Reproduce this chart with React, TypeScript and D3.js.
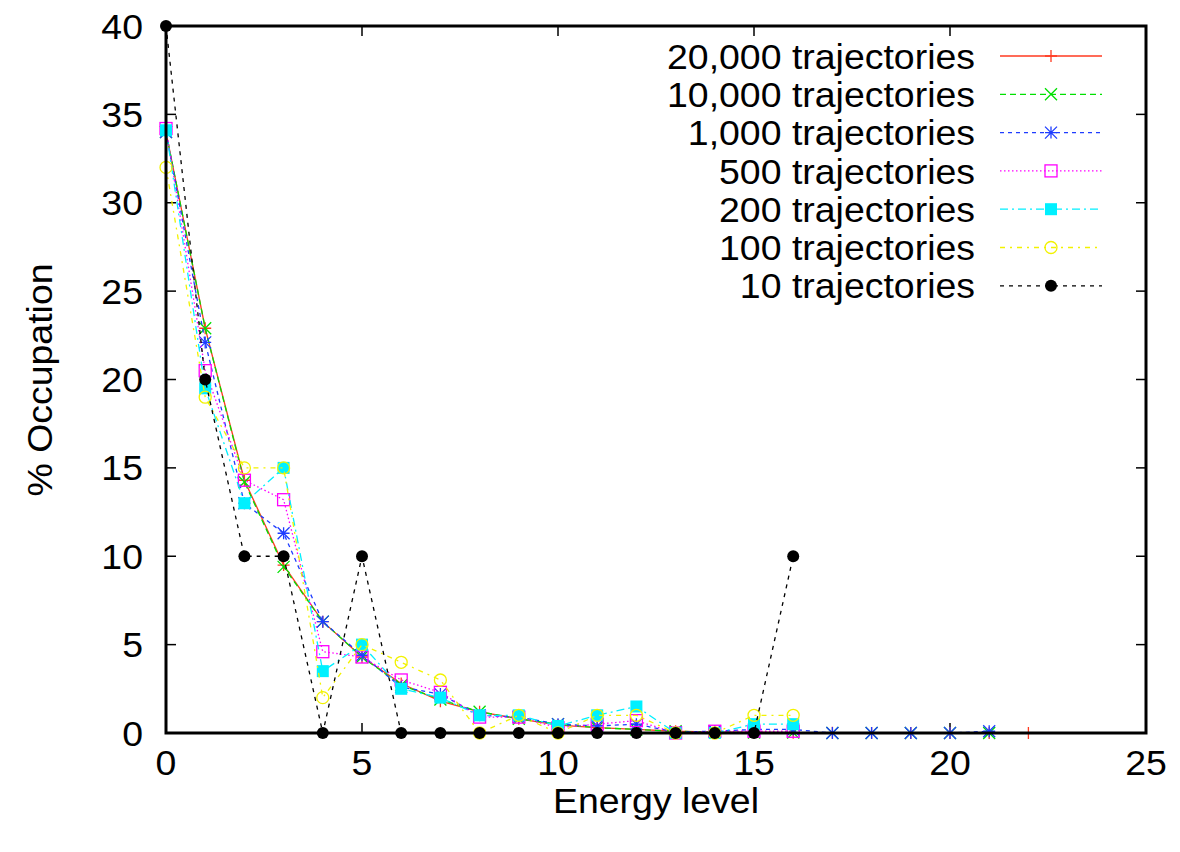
import React from "react";
import * as d3 from "d3";

// Energy-level occupation (%) for different trajectory counts
const levels20000 = [34, 22.9, 14.3, 9.5, 6.3, 4.3, 2.8, 1.8, 1.2, 0.8, 0.45, 0.3, 0.2, 0.1, 0.05, 0.03, 0.02, 0.01, 0, 0, 0, 0, 0];
const levels10000 = [34, 22.9, 14.2, 9.4, 6.3, 4.3, 2.7, 1.9, 1.2, 0.8, 0.5, 0.3, 0.2, 0.1, 0.05, 0.02, 0.02, 0, 0, 0, 0, 0];
const levels1000 = [34, 22.1, 13.0, 11.3, 6.3, 4.4, 2.6, 2.2, 1.0, 0.9, 0.5, 0.4, 0.5, 0.05, 0.1, 0.2, 0.2, 0, 0, 0, 0, 0.1];
const levels500 = [34.2, 20.5, 14.3, 13.2, 4.6, 4.3, 3.0, 2.3, 0.9, 0.9, 0.3, 0.5, 0.7, 0, 0.1, 0.1, 0.1];
const levels200 = [34.1, 19.5, 13, 15, 3.5, 5.0, 2.5, 2.0, 1.0, 1.0, 0.4, 1.0, 1.5, 0, 0, 0.5, 0.5];
const levels100 = [32, 19, 15, 15, 2, 5, 4, 3, 0, 1, 0, 1, 1, 0, 0, 1, 1];
const levels10 = [40, 20, 10, 10, 0, 10, 0, 0, 0, 0, 0, 0, 0, 0, 0, 0, 10];

const seriesLabels = [
  "20,000 trajectories",
  "10,000 trajectories",
  "1,000 trajectories",
  "500 trajectories",
  "200 trajectories",
  "100 trajectories",
  "10 trajectories",
];
const xTicks = [0, 5, 10, 15, 20, 25];
const yTicks = [0, 5, 10, 15, 20, 25, 30, 35, 40];

type Marker = "plus" | "cross" | "star" | "square" | "fsquare" | "circle" | "fcircle";
const series: { label: string; values: number[]; color: string; dash: string; marker: Marker }[] = [
  { label: seriesLabels[0], values: levels20000, color: "#ff3a20", dash: "none", marker: "plus" },
  { label: seriesLabels[1], values: levels10000, color: "#00e000", dash: "6,4", marker: "cross" },
  { label: seriesLabels[2], values: levels1000, color: "#1f3dff", dash: "4,4", marker: "star" },
  { label: seriesLabels[3], values: levels500, color: "#ff00ff", dash: "1.5,2.5", marker: "square" },
  { label: seriesLabels[4], values: levels200, color: "#00f0ff", dash: "8,4,2,4", marker: "fsquare" },
  { label: seriesLabels[5], values: levels100, color: "#f2f200", dash: "5,5,2,5", marker: "circle" },
  { label: seriesLabels[6], values: levels10, color: "#000000", dash: "4,5", marker: "fcircle" },
];

const W = 1180;
const H = 852;
const left = 166;
const right = 1146;
const top = 26;
const bottom = 733;

const FONT = "'Liberation Sans', Arial, Helvetica, sans-serif";
const FONT_SIZE = 35;
const STRETCH = 1.07;

// Text drawn slightly wide, like the terminal's font
function T({
  x,
  y,
  anchor,
  rotate = 0,
  dy = "0",
  children,
}: {
  x: number;
  y: number;
  anchor: "start" | "middle" | "end";
  rotate?: number;
  dy?: string;
  children: React.ReactNode;
}) {
  return (
    <text
      transform={`translate(${x},${y}) rotate(${rotate}) scale(${STRETCH},1)`}
      textAnchor={anchor}
      dy={dy}
      fontSize={FONT_SIZE}
      fill="#000"
    >
      {children}
    </text>
  );
}

function MarkerShape({ type, x, y, color }: { type: Marker; x: number; y: number; color: string }) {
  const s = 6;
  switch (type) {
    case "plus":
      return <path d={`M${x - s},${y}H${x + s}M${x},${y - s}V${y + s}`} stroke={color} strokeWidth={1.3} fill="none" />;
    case "cross":
      return <path d={`M${x - s},${y - s}L${x + s},${y + s}M${x - s},${y + s}L${x + s},${y - s}`} stroke={color} strokeWidth={1.3} fill="none" />;
    case "star":
      return (
        <path
          d={`M${x - s},${y}H${x + s}M${x},${y - s}V${y + s}M${x - s},${y - s}L${x + s},${y + s}M${x - s},${y + s}L${x + s},${y - s}`}
          stroke={color}
          strokeWidth={1.3}
          fill="none"
        />
      );
    case "square":
      return <rect x={x - s} y={y - s} width={2 * s} height={2 * s} stroke={color} strokeWidth={1.3} fill="none" />;
    case "fsquare":
      return <rect x={x - s} y={y - s} width={2 * s} height={2 * s} fill={color} />;
    case "circle":
      return <circle cx={x} cy={y} r={s} stroke={color} strokeWidth={1.3} fill="none" />;
    case "fcircle":
      return <circle cx={x} cy={y} r={s} fill={color} />;
  }
}

export default function App() {
  const x = d3.scaleLinear().domain([0, 25]).range([left, right]);
  const y = d3.scaleLinear().domain([0, 40]).range([bottom, top]);
  const line = d3
    .line<number>()
    .x((_, i) => x(i))
    .y((v) => y(v));

  const legendTextX = 975;
  const legendLineX0 = 1000;
  const legendLineX1 = 1102;
  const legendY0 = 56;
  const legendStep = 38.3;
  const tickLen = 10;

  return (
    <svg width={W} height={H} style={{ position: "absolute", left: 0, top: 0, background: "#fff" }} fontFamily={FONT}>
      <rect x={0} y={0} width={W} height={H} fill="#fff" />
      <defs>
        <clipPath id="plotArea">
          <rect x={left - 8} y={top - 8} width={right - left + 16} height={bottom - top + 16} />
        </clipPath>
      </defs>

      {/* ticks on all four sides, pointing inwards */}
      <g stroke="#000" strokeWidth={1.5}>
        {yTicks.map((t) => (
          <g key={`yt${t}`}>
            <line x1={left} x2={left + tickLen} y1={y(t)} y2={y(t)} />
            <line x1={right} x2={right - tickLen} y1={y(t)} y2={y(t)} />
          </g>
        ))}
        {xTicks.map((t) => (
          <g key={`xt${t}`}>
            <line x1={x(t)} x2={x(t)} y1={bottom} y2={bottom - tickLen} />
            <line x1={x(t)} x2={x(t)} y1={top} y2={top + tickLen} />
          </g>
        ))}
      </g>

      {/* tick labels */}
      {yTicks.map((t) => (
        <T key={`yl${t}`} x={143} y={y(t)} dy="0.36em" anchor="end">
          {t}
        </T>
      ))}
      {xTicks.map((t) => (
        <T key={`xl${t}`} x={x(t)} y={775} anchor="middle">
          {t}
        </T>
      ))}

      {/* axis titles */}
      <T x={656} y={813} anchor="middle">
        Energy level
      </T>
      <T x={52} y={380} rotate={-90} anchor="middle">
        % Occupation
      </T>

      {/* data series */}
      <g clipPath="url(#plotArea)">
        {series.map((s) => (
          <g key={s.label}>
            <path
              d={line(s.values) ?? ""}
              fill="none"
              stroke={s.color}
              strokeWidth={1.3}
              strokeDasharray={s.dash === "none" ? undefined : s.dash}
            />
            {s.values.map((v, i) => (
              <MarkerShape key={i} type={s.marker} x={x(i)} y={y(v)} color={s.color} />
            ))}
          </g>
        ))}
      </g>

      {/* legend */}
      {series.map((s, i) => {
        const ly = legendY0 + i * legendStep;
        return (
          <g key={`lg${s.label}`}>
            <T x={legendTextX} y={ly} dy="0.36em" anchor="end">
              {s.label}
            </T>
            <line
              x1={legendLineX0}
              x2={legendLineX1}
              y1={ly}
              y2={ly}
              stroke={s.color}
              strokeWidth={1.3}
              strokeDasharray={s.dash === "none" ? undefined : s.dash}
            />
            <MarkerShape type={s.marker} x={(legendLineX0 + legendLineX1) / 2} y={ly} color={s.color} />
          </g>
        );
      })}

      {/* frame */}
      <rect x={left} y={top} width={right - left} height={bottom - top} fill="none" stroke="#000" strokeWidth={3} />
    </svg>
  );
}
